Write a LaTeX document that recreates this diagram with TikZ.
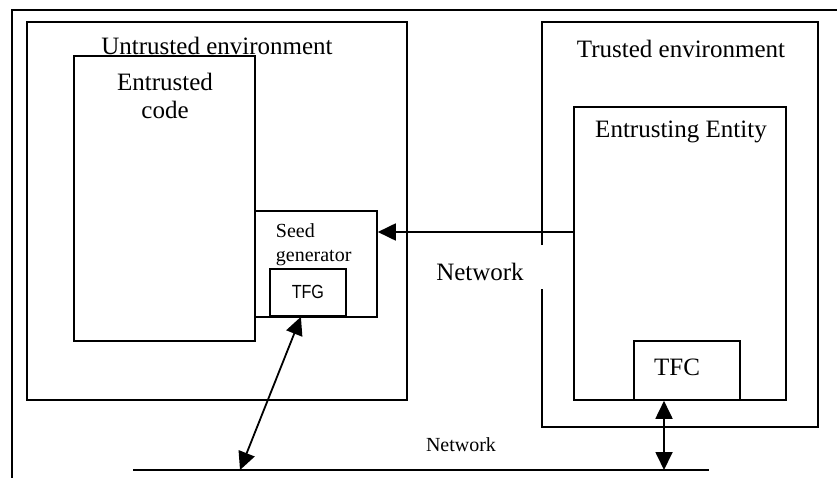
\documentclass[tikz,border=0pt]{standalone}
\usepackage{fontspec}
\setmainfont{Liberation Serif}
\newfontfamily\sansf{Liberation Sans}
\usetikzlibrary{arrows.meta,calc}
\begin{document}
\begin{tikzpicture}[x=1pt,y=-1pt,line width=1.8pt,
  box/.style={draw,line width=1.8pt,inner sep=0pt,anchor=north west},
  plainbox/.style={inner sep=0pt,anchor=north west},
  big/.style={font=\fontsize{25}{28}\selectfont,inner sep=0pt},
  small/.style={font=\fontsize{20}{24}\selectfont,inner sep=0pt},
  tip/.tip={Triangle[length=18pt,width=17pt]},
  arr/.style={-tip},
  darr/.style={tip-tip}]
\useasboundingbox (0,0) rectangle (837,478);
% outer frame
\draw (12,478) -- (12,10) -- (837,10);
% untrusted side
\node[box,minimum width=380pt,minimum height=378pt] (uenv) at (26,21) {};
\node[box,fill=white,minimum width=181pt,minimum height=285pt] (code) at (73,55) {};
\node[big] (ulabel) at (217,46) {Untrusted environment};
\node[big,align=center] (codelabel) at (165,96) {Entrusted\\code};
\node[box,minimum width=122pt,minimum height=106pt] (seed) at (254,210) {};
\node[small,align=left,anchor=west] (seedlabel) at (275,245) {Seed\\generator};
\node[box,fill=white,minimum width=76pt,minimum height=47pt] (tfg) at (269,268) {};
\node[inner sep=0pt,font=\sansf\fontsize{19}{22}\selectfont] (tfglabel) at (tfg.center) {\scalebox{0.85}[1]{TFG}};
% trusted side
\node[plainbox,minimum width=274pt,minimum height=403pt] (tenv) at (542,22) {};
\draw ([yshift=-223pt]tenv.north west) -- (tenv.north west) -- (tenv.north east)
  -- (tenv.south east) -- (tenv.south west) -- ([yshift=-267pt]tenv.north west);
\node[big] (tlabel) at (681,49) {Trusted environment};
\node[box,minimum width=212pt,minimum height=293pt] (ee) at (573,106) {};
\node[big] (eelabel) at (681,132) {Entrusting Entity};
\node[box,minimum width=106pt,minimum height=59pt] (tfc) at (633,340) {};
\node[big] (tfclabel) at (677,367) {TFC};
% networks
\node[big] (net1) at (480,272) {Network};
\node[small] (net2) at (461,445) {Network};
\coordinate (a1) at (573,232);
\draw[arr] (ee.west |- a1) -- (seed.east |- a1);
\coordinate (nl) at (133,470);
\coordinate (nr) at (709,470);
\draw (nl) -- (nr);
\coordinate (n1) at (240,470);
\coordinate (n2) at (664,470);
\draw[darr] ([xshift=-7pt]tfg.south) -- (n1);
\draw[darr] (tfc.south -| n2) -- (n2);
\end{tikzpicture}
\end{document}
